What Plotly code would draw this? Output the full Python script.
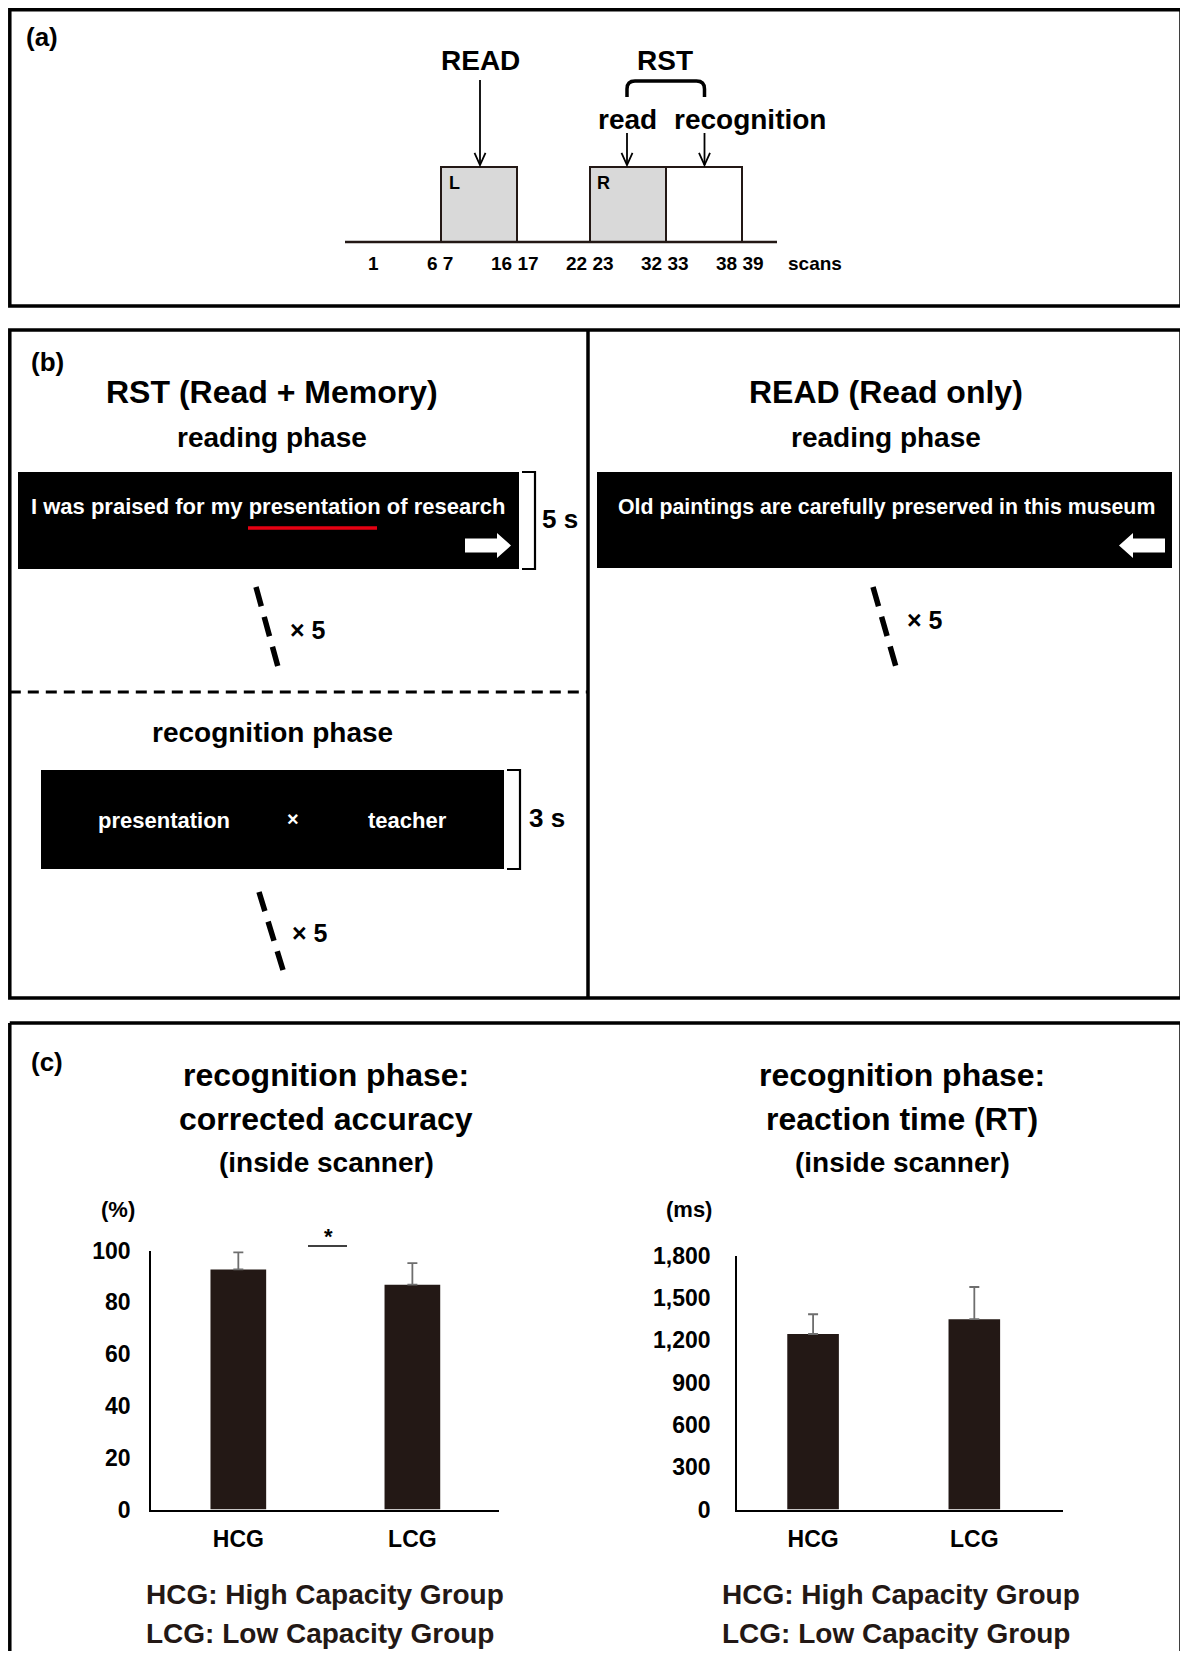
import plotly.graph_objects as go

# The page body has an 8px margin; the figure is sized and shifted to compensate
# so that the page does not overflow the 1188x1659 window.
OFF = 8
FW, FH = 1180, 1643

# ---------------- data ----------------
groups = ["HCG", "LCG"]
accuracy = [92.7, 86.8]          # corrected accuracy (%)
accuracy_err = [6.6, 8.3]
rt = [1245, 1350]                # reaction time (ms)
rt_err = [140, 228]
acc_ticks = [0, 20, 40, 60, 80, 100]
rt_ticks = [0, 300, 600, 900, 1200, 1500, 1800]
rt_tick_text = ["0", "300", "600", "900", "1,200", "1,500", "1,800"]
scan_labels = ["1", "6 7", "16 17", "22 23", "32 33", "38 39"]

FONT = "Liberation Sans, Arial, sans-serif"
BAR = "#231815"
ERR = "#6e6e6e"


def px(x):
    return (x - OFF) / FW


def py(y):
    return 1 - (y - OFF) / FH


shapes = []
annotations = []


def line(x0, y0, x1, y1, width=2, color="black", dash=None):
    d = dict(type="line", xref="paper", yref="paper",
             x0=px(x0), y0=py(y0), x1=px(x1), y1=py(y1),
             line=dict(color=color, width=width))
    if dash:
        d["line"]["dash"] = dash
    shapes.append(d)


def rect(x0, y0, x1, y1, fill="rgba(0,0,0,0)", lw=0, lc="black"):
    shapes.append(dict(type="rect", xref="paper", yref="paper",
                       x0=px(x0), y0=py(y0), x1=px(x1), y1=py(y1),
                       fillcolor=fill, line=dict(color=lc, width=lw)))


def path(cmds, fill=None, lw=2, lc="black"):
    parts = []
    for c in cmds:
        if c[0] == "Z":
            parts.append("Z")
        elif c[0] == "Q":
            parts.append("Q %f,%f %f,%f" % (px(c[1]), py(c[2]), px(c[3]), py(c[4])))
        else:
            parts.append("%s %f,%f" % (c[0], px(c[1]), py(c[2])))
    d = dict(type="path", xref="paper", yref="paper", path=" ".join(parts),
             line=dict(color=lc, width=lw))
    if fill:
        d["fillcolor"] = fill
    shapes.append(d)


def text(x, y, s, size, color="black", xanchor="center", bold=True):
    annotations.append(dict(xref="paper", yref="paper", x=px(x), y=py(y),
                            text=("<b>%s</b>" % s) if bold else s,
                            showarrow=False, xanchor=xanchor, yanchor="middle",
                            font=dict(family=FONT, size=size, color=color)))


# ---------------- panel borders ----------------
BW = 3.5
LX = 9.8           # left border (kept inside the visible area)
RX = 1181          # right border
rect(LX, 9.8, RX, 306, lw=BW)                  # (a)
rect(LX, 330, RX, 998, lw=BW)                  # (b)
line(588, 330, 588, 998, width=BW)
line(LX, 692, 588, 692, width=3, dash="11px,7px")
# (c) open at the bottom
line(LX, 1023, RX, 1023, width=BW)
line(LX, 1023, LX, 1670, width=BW)
line(RX, 1023, RX, 1670, width=BW)

# ---------------- panel (a) ----------------
text(42, 37, "(a)", 26)
rect(441, 167, 517, 242, fill="#d9d9d9", lw=2, lc=BAR)
rect(590, 167, 666, 242, fill="#d9d9d9", lw=2, lc=BAR)
rect(666, 167, 742, 242, fill="white", lw=2, lc=BAR)
line(345, 242, 777, 242, width=2.5, color=BAR)
text(447, 183, "L", 18, xanchor="left")
text(595, 183, "R", 18, xanchor="left")
for lab, xx in zip(scan_labels, [373, 440, 515, 590, 665, 740]):
    text(xx, 263, lab, 19)
text(786, 263, "scans", 19, xanchor="left")

text(480, 60, "READ", 28)
text(665, 60, "RST", 28)
text(627, 119, "read", 28)
text(750, 119, "recognition", 28)


def down_arrow(x, y0, y1):
    line(x, y0, x, y1, width=1.8)
    path([("M", x - 5.5, y1 - 12), ("L", x, y1), ("L", x + 5.5, y1 - 12)], lw=1.8)


down_arrow(480, 80, 165)
down_arrow(627, 133, 165)
down_arrow(704.5, 133, 165)
path([("M", 627, 97), ("L", 627, 89), ("Q", 627, 81, 635, 81), ("L", 696.5, 81),
      ("Q", 704.5, 81, 704.5, 89), ("L", 704.5, 97)], lw=3.5)

# ---------------- panel (b) ----------------
text(47, 362, "(b)", 26)
text(272, 392, "RST (Read + Memory)", 32)
text(272, 437, "reading phase", 28)
text(886, 392, "READ (Read only)", 32)
text(886, 437, "reading phase", 28)

# reading box (RST)
rect(18, 472, 519, 569, fill="black")
text(268, 507, "I was praised for my presentation of research", 22, color="white")
line(248, 528, 377, 528, width=3.5, color="#e60012")
path([("M", 465, 538.5), ("L", 497, 538.5), ("L", 497, 533), ("L", 511, 545.5),
      ("L", 497, 558), ("L", 497, 552.5), ("L", 465, 552.5), ("Z",)],
     fill="white", lw=0, lc="white")
path([("M", 522, 472), ("L", 535, 472), ("L", 535, 569), ("L", 522, 569)], lw=2.2)
text(560, 519, "5 s", 26)
line(256, 587, 278, 667, width=5.5, dash="20px,11px")
text(308, 630, "× 5", 25)

# recognition box
text(272, 733, "recognition phase", 28)
rect(41, 770, 504, 869, fill="black")
text(164, 820, "presentation", 22, color="white")
text(293, 819, "×", 20, color="white")
text(407, 820, "teacher", 22, color="white")
path([("M", 507, 770), ("L", 520, 770), ("L", 520, 869), ("L", 507, 869)], lw=2.2)
text(547, 818, "3 s", 26)
line(259, 892, 283, 970, width=5.5, dash="20px,11px")
text(310, 933, "× 5", 25)

# reading box (READ)
rect(597, 472, 1172, 568, fill="black")
text(886, 507, "Old paintings are carefully preserved in this museum", 21.3, color="white")
path([("M", 1165, 538.5), ("L", 1133, 538.5), ("L", 1133, 533), ("L", 1119, 545.5),
      ("L", 1133, 558), ("L", 1133, 552.5), ("L", 1165, 552.5), ("Z",)],
     fill="white", lw=0, lc="white")
line(873, 587, 896, 667, width=5.5, dash="20px,11px")
text(925, 620, "× 5", 25)

# ---------------- panel (c) ----------------
text(47, 1062, "(c)", 26)
for cx, l2 in [(326, "corrected accuracy"), (902, "reaction time (RT)")]:
    text(cx, 1075, "recognition phase:", 32)
    text(cx, 1119, l2, 32)
    text(cx, 1162, "(inside scanner)", 28)
    text(cx - 182, 1594, "HCG: High Capacity Group", 28, color=BAR, xanchor="left")
    text(cx - 182, 1633, "LCG: Low Capacity Group", 28, color=BAR, xanchor="left")

text(118, 1209, "(%)", 22)
text(689, 1209, "(ms)", 22)
# significance mark
line(308, 1246, 347, 1246, width=1.5)
text(328, 1236, "*", 22)

fig = go.Figure()
fig.add_trace(go.Bar(x=[0, 1], y=accuracy, width=0.32, marker=dict(color=BAR, line=dict(width=0)),
                     error_y=dict(type="data", symmetric=False, array=accuracy_err,
                                  arrayminus=[0, 0], color=ERR, thickness=1.8, width=5),
                     xaxis="x", yaxis="y", hoverinfo="skip"))
fig.add_trace(go.Bar(x=[0, 1], y=rt, width=0.32, marker=dict(color=BAR, line=dict(width=0)),
                     error_y=dict(type="data", symmetric=False, array=rt_err,
                                  arrayminus=[0, 0], color=ERR, thickness=1.8, width=5),
                     xaxis="x2", yaxis="y2", hoverinfo="skip"))

tickfont = dict(family=FONT, size=23, color="black")
xcommon = dict(showline=True, linecolor="black", linewidth=2.2, ticks="", showgrid=False,
               zeroline=False, tickvals=[0, 1], ticktext=["<b>%s</b>" % g for g in groups],
               tickfont=tickfont, ticklabelstandoff=8, fixedrange=True, automargin=False)
ycommon = dict(showline=True, linecolor="black", linewidth=2.2, ticks="", showgrid=False,
               zeroline=False, tickfont=tickfont, fixedrange=True, automargin=False)

fig.update_layout(
    width=FW, height=FH, margin=dict(l=0, r=0, t=0, b=0, pad=0),
    paper_bgcolor="white", plot_bgcolor="white", showlegend=False,
    xaxis=dict(domain=[px(151.3), px(499.4)], range=[-0.5, 1.5], anchor="y", **xcommon),
    yaxis=dict(domain=[py(1509.6), py(1250.5)], range=[0, 100], anchor="x",
               tickvals=acc_ticks, ticktext=["<b>%d</b>" % t for t in acc_ticks],
               ticklabelstandoff=14, **ycommon),
    xaxis2=dict(domain=[px(737.3), px(1063)], range=[-0.47, 1.55], anchor="y2", **xcommon),
    yaxis2=dict(domain=[py(1509.6), py(1255.7)], range=[0, 1800], anchor="x2",
                tickvals=rt_ticks, ticktext=["<b>%s</b>" % t for t in rt_tick_text],
                ticklabelstandoff=20, **ycommon),
    shapes=shapes, annotations=annotations,
)

fig.write_html("out.html")
